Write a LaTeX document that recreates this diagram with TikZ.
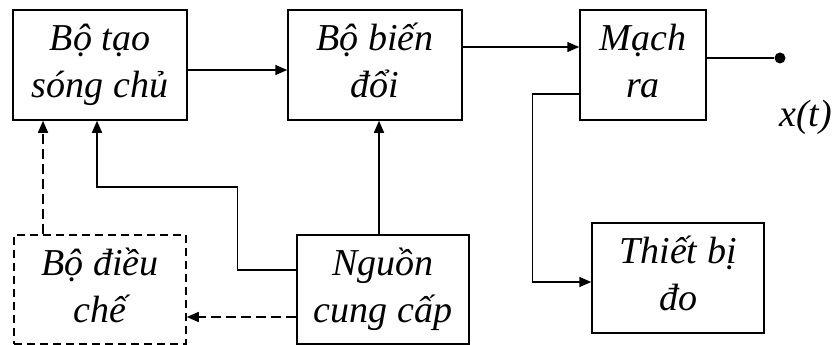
\documentclass[tikz,border=0pt]{standalone}
\usepackage{fontspec}
\setmainfont{Liberation Serif}[ItalicFont={Liberation Serif Italic}]
\usetikzlibrary{arrows.meta}
\begin{document}
\begin{tikzpicture}[x=1pt,y=-1pt,
  blk/.style={draw, line width=1.5pt, inner sep=0pt, align=center,
    font=\fontsize{38}{47}\selectfont\itshape},
  wire/.style={line width=1.5pt},
  arr/.style={wire, -{Triangle[length=12pt,width=10pt]}},
  dsh/.style={dash pattern=on 10pt off 5pt},
  lbl/.style={font=\fontsize{38}{47}\selectfont\itshape, inner sep=0pt}]
\useasboundingbox (0,0) rectangle (833,345);
\node[blk, minimum width=174pt, minimum height=110pt] (b1) at (100,65) {\strut Bộ tạo\\\strut sóng chủ};
\node[blk, minimum width=174pt, minimum height=110pt] (b2) at (375,65) {\strut Bộ biến\\\strut đổi};
\node[blk, minimum width=126pt, minimum height=110pt] (b3) at (643,65) {\strut Mạch\\\strut ra};
\node[blk, minimum width=172pt, minimum height=110pt] (tb) at (678,278) {\strut Thiết bị\\\strut đo};
\node[blk, minimum width=172pt, minimum height=109pt] (ng) at (383,289.5) {\strut Nguồn\\\strut cung cấp};
\node[blk, dash pattern=on 8pt off 5pt, minimum width=172pt, minimum height=109pt] (dc) at (100,289.5) {\strut Bộ điều\\\strut chế};
\node[circle, fill, inner sep=0pt, minimum size=11pt] (dot) at (780,58) {};
\node[lbl, anchor=base west] (xt) at (779,126) {x(t)};
% connectors
\draw[arr] ([yshift=-5pt]b1.east) -- ([yshift=-5pt]b2.west);
\draw[arr] ([yshift=18pt]b2.east) -- ([yshift=18pt]b3.west);
\draw[wire] (b3.east |- dot) -- (dot);
\draw[arr] ([yshift=-29pt]b3.west) -- ++(-47,0) |- ([yshift=-4pt]tb.west);
\draw[arr] ([xshift=-4pt]ng.north) -- ([xshift=-4pt]ng.north |- b2.south);
\draw[arr] ([yshift=19.5pt]ng.west) -- ++(-59,0) -- ++(0,-83) -| ([xshift=-3pt]b1.south);
\draw[arr, dsh] ([xshift=-57pt]dc.north) -- ([xshift=-57pt]dc.north |- b1.south);
\draw[arr, dsh] ([yshift=-27.5pt]ng.west) -- ([yshift=-27.5pt]dc.east);
\end{tikzpicture}
\end{document}
